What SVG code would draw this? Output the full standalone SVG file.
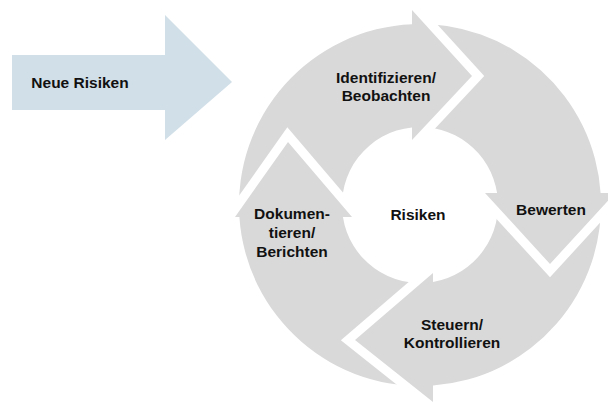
<svg xmlns="http://www.w3.org/2000/svg" width="608" height="403" viewBox="0 0 608 403">
  <style>
    .seg { fill: #d9d9d9; }
    .lbl { font-family: "Liberation Sans", Arial, sans-serif; font-weight: 700; font-size: 15.5px; fill: #111111; text-anchor: middle; }
    .cut { fill: #000000; stroke: #000000; stroke-width: 18; stroke-linejoin: miter; }
  </style>
  <defs>
    <mask id="m1" maskUnits="userSpaceOnUse" x="0" y="0" width="608" height="403">
      <rect width="608" height="403" fill="#ffffff"/>
      <polygon class="cut" points="235,217 288,142 352,217"/>
    </mask>
    <mask id="m2" maskUnits="userSpaceOnUse" x="0" y="0" width="608" height="403">
      <rect width="608" height="403" fill="#ffffff"/>
      <polygon class="cut" points="412,10 472,76 412,140"/>
    </mask>
    <mask id="m3" maskUnits="userSpaceOnUse" x="0" y="0" width="608" height="403">
      <rect width="608" height="403" fill="#ffffff"/>
      <polygon class="cut" points="615,193 550,264 485,193"/>
    </mask>
    <mask id="m4" maskUnits="userSpaceOnUse" x="0" y="0" width="608" height="403">
      <rect width="608" height="403" fill="#ffffff"/>
      <polygon class="cut" points="433,402 355,340 433,273"/>
    </mask>
  </defs>
  <rect width="608" height="403" fill="#ffffff"/>

  <g id="neue-risiken">
    <polygon points="12,55 165,55 165,15 232,82 165,140 165,110 12,110" fill="#d1dfe8"/>
    <text class="lbl" x="80" y="88">Neue Risiken</text>
  </g>

  <g id="identifizieren">
    <path class="seg" mask="url(#m1)" d="M239.4,217 A181,181 0 0 1 412,24.18 L412,10 L472,76 L412,140 L412,127.41 A78,78 0 0 0 342.93,217 Z"/>
    <text class="lbl" x="386" y="83">Identifizieren/</text>
    <text class="lbl" x="386" y="101">Beobachten</text>
  </g>

  <g id="bewerten">
    <path class="seg" mask="url(#m2)" d="M412,24.18 A181,181 0 0 1 600.6,193 L615,193 L550,264 L485,193 L497.07,193 A78,78 0 0 0 412,127.41 Z"/>
    <text class="lbl" x="551" y="215">Bewerten</text>
  </g>

  <g id="steuern">
    <path class="seg" mask="url(#m3)" d="M600.6,193 A181,181 0 0 1 433,385.53 L433,402 L355,340 L433,273 L433,281.91 A78,78 0 0 0 497.07,193 Z"/>
    <text class="lbl" x="452" y="330">Steuern/</text>
    <text class="lbl" x="452" y="348">Kontrollieren</text>
  </g>

  <g id="dokumentieren">
    <path class="seg" mask="url(#m4)" d="M433,385.53 A181,181 0 0 1 239.4,217 L235,217 L288,142 L352,217 L342.93,217 A78,78 0 0 0 433,281.91 Z"/>
    <text class="lbl" x="292" y="219">Dokumen-</text>
    <text class="lbl" x="292" y="238">tieren/</text>
    <text class="lbl" x="292" y="257">Berichten</text>
  </g>

  <g id="risiken">
    <text class="lbl" x="418" y="220">Risiken</text>
  </g>

  <g id="connectors"></g>
</svg>
